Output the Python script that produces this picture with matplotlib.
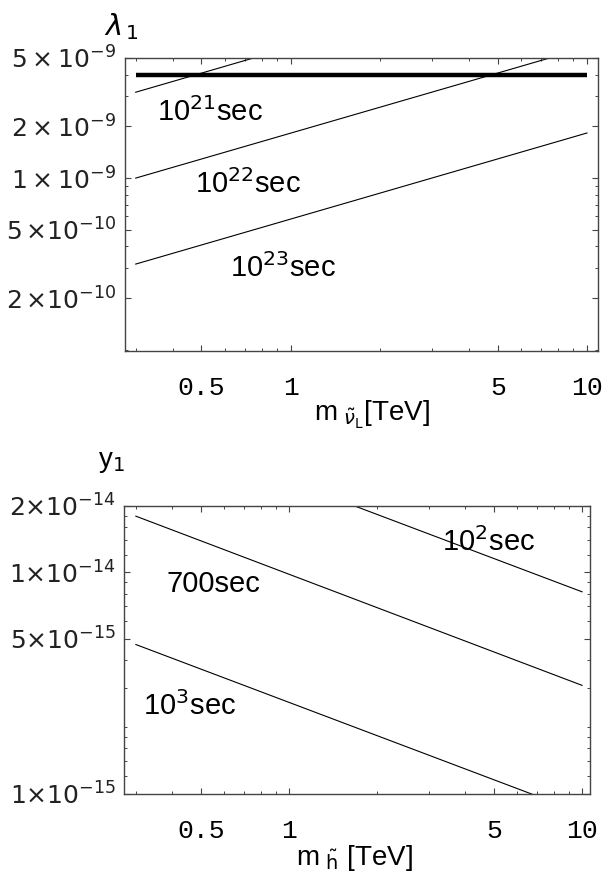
"""Lifetime contours for lambda_1 and y_1 couplings."""

import matplotlib

matplotlib.use("Agg")

import matplotlib.pyplot as plt
from matplotlib.ticker import FixedLocator, NullFormatter

# upper panel: lambda_1 vs sneutrino mass
m_top = [0.3, 10.0]
lam_bound = [4.0e-9, 4.0e-9]
lam_21 = [3.16e-9, 1.83e-8]
lam_22 = [1.0e-9, 5.78e-9]
lam_23 = [3.16e-10, 1.83e-9]

# lower panel: y_1 vs higgsino mass
m_bot = [0.3, 10.0]
y_100 = [4.7e-14, 8.15e-15]
y_700 = [1.79e-14, 3.08e-15]
y_1000 = [4.71e-15, 0.816e-15]

x_ticks = [0.5, 1, 5, 10]
x_ticklabels = ["0.5", "1", "5", "10"]
x_minor = [0.3, 0.4, 0.6, 0.7, 0.8, 0.9, 2, 3, 4, 6, 7, 8, 9]

top_yticks = [2e-10, 5e-10, 1e-9, 2e-9, 5e-9]
top_yticklabels = [
    r"$2\,{\times}10^{-10}$",
    r"$5\,{\times}10^{-10}$",
    r"$1\times10^{-9}$",
    r"$2\times10^{-9}$",
    r"$5\times10^{-9}$",
]
top_yminor = [1e-10 * k for k in (1, 3, 4, 6, 7, 8, 9)] + [1e-9 * k for k in (3, 4)]

bot_yticks = [1e-15, 5e-15, 1e-14, 2e-14]
bot_yticklabels = [
    r"$1{\times}10^{-15}$",
    r"$5{\times}10^{-15}$",
    r"$1{\times}10^{-14}$",
    r"$2{\times}10^{-14}$",
]
bot_yminor = [1e-15 * k for k in (1.2, 1.4, 1.6, 1.8, 2, 3, 4, 6, 7, 8, 9)] + [
    1e-14 * k for k in (1.2, 1.4, 1.6, 1.8)
]

SPINE = "#444444"
LABEL_FONT = ["Liberation Sans", "DejaVu Sans"]
MONO_FONT = ["Liberation Mono", "DejaVu Sans Mono"]

plt.rcParams["mathtext.fontset"] = "dejavusans"


def _style_axes(ax, xlim, ylim, yticks, yticklabels, yminor, ysize):
    ax.set_xscale("log")
    ax.set_yscale("log")
    ax.set_xlim(xlim)
    ax.set_ylim(ylim)

    ax.xaxis.set_major_locator(FixedLocator(x_ticks))
    ax.xaxis.set_minor_locator(FixedLocator(x_minor))
    ax.set_xticklabels(x_ticklabels, fontfamily=MONO_FONT, fontsize=19)
    ax.xaxis.set_minor_formatter(NullFormatter())

    ax.yaxis.set_major_locator(FixedLocator(yticks))
    ax.yaxis.set_minor_locator(FixedLocator(yminor))
    ax.set_yticklabels(yticklabels, fontsize=ysize, color="#222222")
    ax.yaxis.set_minor_formatter(NullFormatter())

    ax.tick_params(which="both", direction="in", top=True, right=True, color=SPINE)
    ax.tick_params(which="major", length=4, width=0.8)
    ax.tick_params(which="minor", length=2.5, width=0.7)
    ax.tick_params(axis="x", pad=18)
    ax.tick_params(axis="y", pad=6)
    for spine in ax.spines.values():
        spine.set_color(SPINE)
        spine.set_linewidth(1.0)


fig = plt.figure(figsize=(6.07, 8.77), dpi=100)

# upper panel
ax1 = fig.add_axes([0.2059, 0.6001, 0.7788, 0.3338])
ax1.plot(m_top, lam_bound, color="black", linewidth=3.2, solid_capstyle="butt")
for vals in (lam_21, lam_22, lam_23):
    ax1.plot(m_top, vals, color="black", linewidth=0.8)
_style_axes(ax1, (0.276, 10.87), (9.9e-11, 5.0e-9), top_yticks, top_yticklabels, top_yminor, 18)

ax1.text(0.354, 2.14e-9, r"10$^{21}$sec", fontsize=21, fontfamily=LABEL_FONT, va="baseline")
ax1.text(0.475, 8.18e-10, r"10$^{22}$sec", fontsize=21, fontfamily=LABEL_FONT, va="baseline")
ax1.text(0.624, 2.65e-10, r"10$^{23}$sec", fontsize=21, fontfamily=LABEL_FONT, va="baseline")

fig.text(121 / 607, 1 - 27 / 877, r"$\lambda_{\,1}$", fontsize=21, ha="center", va="center")
fig.text(
    372 / 607,
    1 - 415 / 877,
    r"m$_{\ \tilde{\nu}_{\rm L}}$[TeV]",
    fontsize=20,
    fontfamily=LABEL_FONT,
    ha="center",
    va="center",
)

# lower panel
ax2 = fig.add_axes([0.2048, 0.0952, 0.7677, 0.3284])
for vals in (y_100, y_700, y_1000):
    ax2.plot(m_bot, vals, color="black", linewidth=0.8)
_style_axes(ax2, (0.274, 10.67), (1.0e-15, 2.0e-14), bot_yticks, bot_yticklabels, bot_yminor, 18)

ax2.text(3.32, 1.24e-14, r"10$^{2}$sec", fontsize=21, fontfamily=LABEL_FONT, va="baseline")
ax2.text(0.383, 8.11e-15, "700sec", fontsize=21, fontfamily=LABEL_FONT, va="baseline")
ax2.text(0.317, 2.27e-15, r"10$^{3}$sec", fontsize=21, fontfamily=LABEL_FONT, va="baseline")

fig.text(111 / 607, 1 - 462 / 877, r"y$_1$", fontsize=20, fontfamily=LABEL_FONT, ha="center", va="center")
fig.text(
    354 / 607,
    1 - 858 / 877,
    r"m$_{\ \tilde{\rm h}}$ [TeV]",
    fontsize=20,
    fontfamily=LABEL_FONT,
    ha="center",
    va="center",
)

fig.savefig("out.png", dpi=100)
plt.close(fig)
